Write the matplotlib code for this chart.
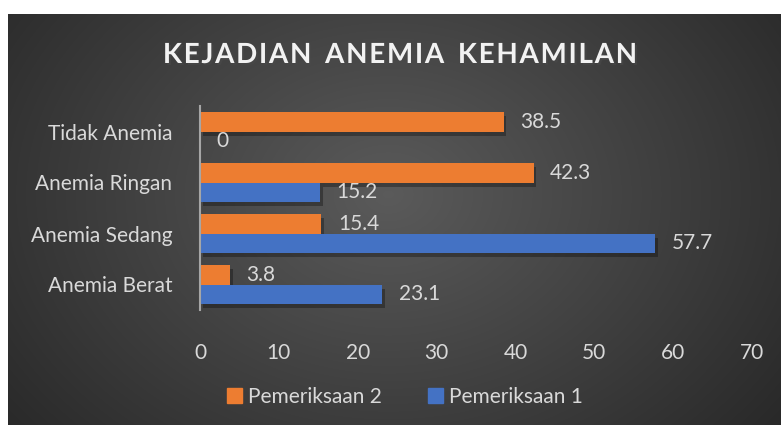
import matplotlib.pyplot as plt
import matplotlib.patheffects as pe
from matplotlib.patches import Patch
import numpy as np

categories = ["Anemia Berat", "Anemia Sedang", "Anemia Ringan", "Tidak Anemia"]
pemeriksaan_1 = [23.1, 57.7, 15.2, 0]
pemeriksaan_2 = [3.8, 15.4, 42.3, 38.5]
x_ticks = [0, 10, 20, 30, 40, 50, 60, 70]
title = "KEJADIAN ANEMIA KEHAMILAN"

ORANGE = "#ED7D31"
BLUE = "#4472C4"
TEXT = "#d9d9d9"
FONT = "Lato"

W, H = 781, 425
fig = plt.figure(figsize=(W / 100, H / 100), dpi=100, facecolor="white")

# dark panel with radial gradient
bg = fig.add_axes([8 / W, 0, 1 - 8 / W, (H - 14) / H])
bg.axis("off")
yy, xx = np.mgrid[0:411, 0:773]
d = np.hypot((xx - 380) / 430, (yy - 180) / 330)
shade = np.clip(0.355 - 0.17 * d, 0.16, 0.355)
bg.imshow(np.dstack([shade] * 3), aspect="auto", interpolation="bilinear")

ax = fig.add_axes([200 / W, 1 - 310 / H, 552 / W, 204 / H])
ax.set_facecolor("none")

y = np.arange(len(categories))
h = 0.38
shadow = [pe.SimplePatchShadow(offset=(2, -3), alpha=0.3, shadow_rgbFace="black"), pe.Normal()]
b2 = ax.barh(y + h / 2, pemeriksaan_2, height=h, color=ORANGE, label="Pemeriksaan 2")
b1 = ax.barh(y - h / 2, pemeriksaan_1, height=h, color=BLUE, label="Pemeriksaan 1")
for bar in list(b1) + list(b2):
    bar.set_path_effects(shadow)

for yi, v in zip(y + h / 2, pemeriksaan_2):
    ax.annotate(f"{v:g}", (v, yi), xytext=(12, 0), textcoords="offset points",
                ha="left", va="center", color=TEXT, fontsize=15, family=FONT)
for yi, v in zip(y - h / 2, pemeriksaan_1):
    ax.annotate(f"{v:g}", (v, yi), xytext=(12, 0), textcoords="offset points",
                ha="left", va="center", color=TEXT, fontsize=15, family=FONT)

ax.set_xlim(0, 70)
ax.set_ylim(-0.5, 3.5)
ax.set_xticks(x_ticks)
ax.set_yticks(y)
ax.set_yticklabels(categories)
ax.tick_params(axis="both", length=0, colors=TEXT, labelsize=15)
ax.tick_params(axis="x", pad=24)
ax.tick_params(axis="y", pad=20)
for lbl in ax.get_xticklabels() + ax.get_yticklabels():
    lbl.set_family(FONT)
for s in ["top", "right", "bottom"]:
    ax.spines[s].set_visible(False)
ax.spines["left"].set_color("#a6a6a6")
ax.spines["left"].set_linewidth(1.5)

# letter-spaced title
spaced = "\u2009 \u2009".join("\u200a".join(word) for word in title.split(" "))
fig.text(400 / W, 1 - 55 / H, spaced,
         ha="center", va="center", color="#f2f2f2", fontsize=20, fontweight="bold",
         family=FONT,
         path_effects=[pe.SimplePatchShadow(offset=(1.5, -1.5), alpha=0.6), pe.Normal()])

handles = [Patch(color=ORANGE), Patch(color=BLUE)]
leg = fig.legend(handles, ["Pemeriksaan 2", "Pemeriksaan 1"], loc="center",
                 bbox_to_anchor=(405 / W, 1 - 397 / H), ncol=2, frameon=False,
                 handlelength=0.7, handleheight=0.7, handletextpad=0.3, columnspacing=2.2,
                 prop={"family": FONT, "size": 15})
for t in leg.get_texts():
    t.set_color(TEXT)

fig.savefig("out.png", dpi=100, facecolor="white")
